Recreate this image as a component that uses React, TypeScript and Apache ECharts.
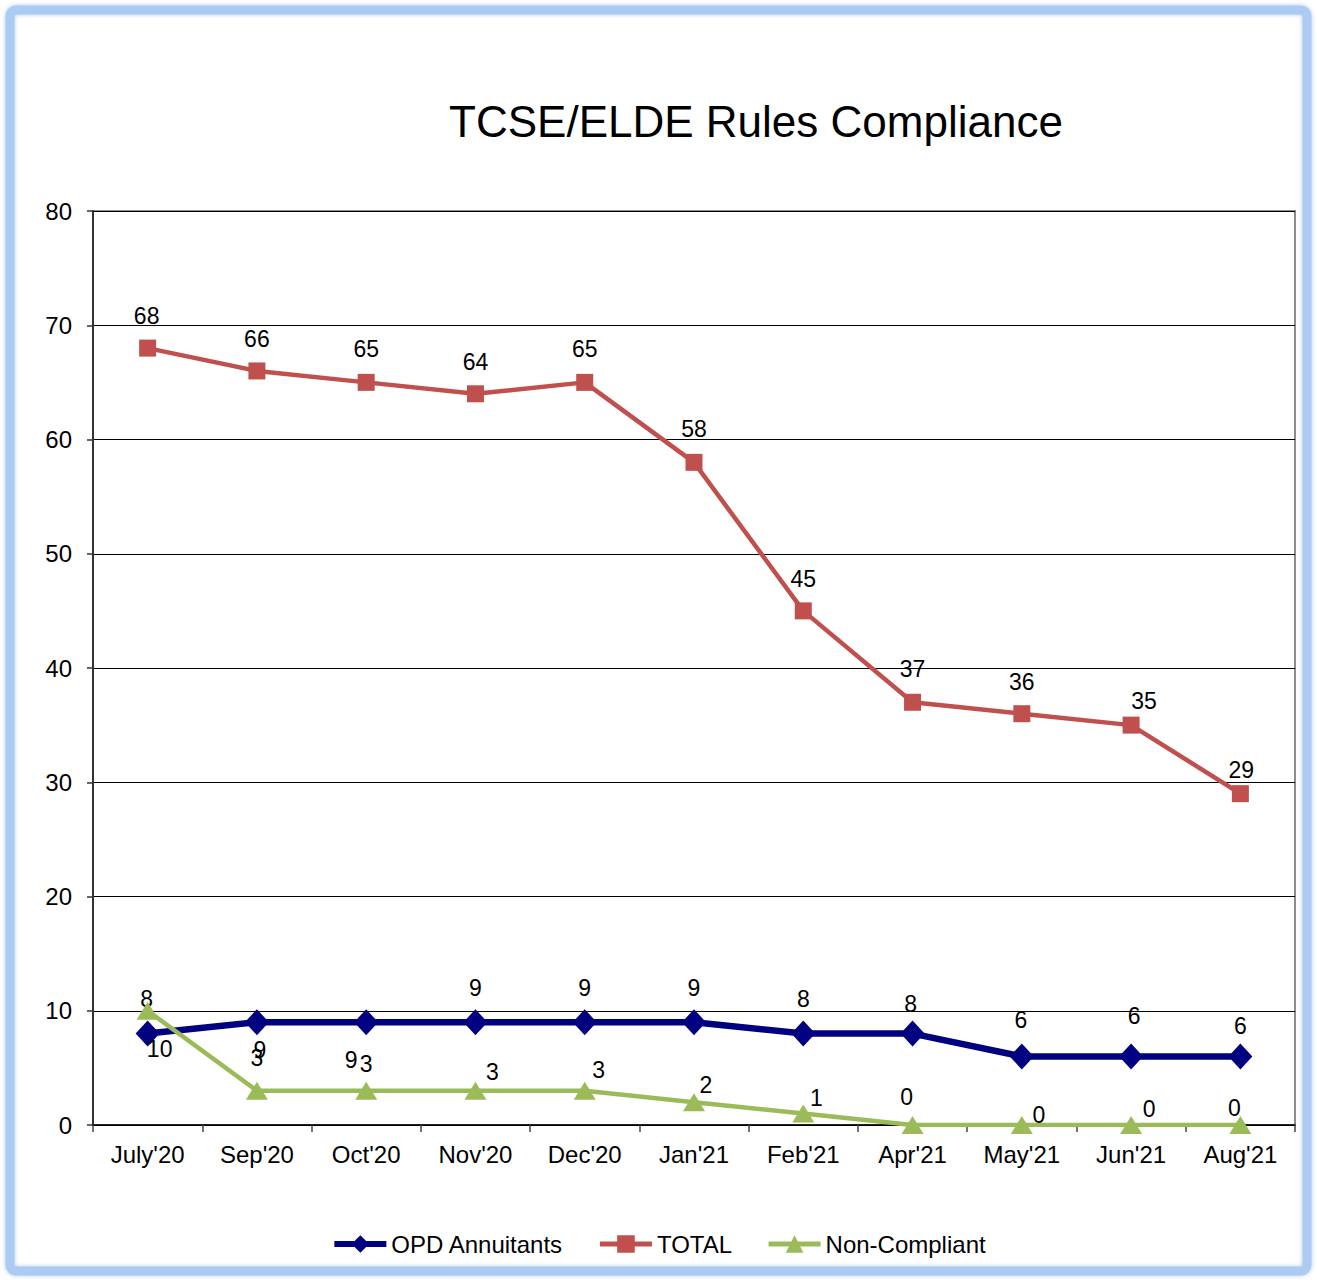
import React, { useEffect, useRef } from "react";
import * as echarts from "echarts";

const categories = ["July'20", "Sep'20", "Oct'20", "Nov'20", "Dec'20", "Jan'21", "Feb'21", "Apr'21", "May'21", "Jun'21", "Aug'21"];
const opdAnnuitants = [8, 9, 9, 9, 9, 9, 8, 8, 6, 6, 6];
const total = [68, 66, 65, 64, 65, 58, 45, 37, 36, 35, 29];
const nonCompliant = [10, 3, 3, 3, 3, 2, 1, 0, 0, 0, 0];
const yTicks = [0, 10, 20, 30, 40, 50, 60, 70, 80];

// label placement offsets (dx, dy) relative to each point, as laid out in the reference
const opdLabelOffsets = [[-1, -35], [3, 28], [-15, 38], [0, -34], [0, -34], [0, -34], [0, -35], [-2, -30], [-1, -36], [3, -40], [0, -30]];
const totalLabelOffsets = [[-1, -32], [0, -32], [0, -33], [0, -32], [0, -33], [0, -33], [0, -32], [0, -33], [0, -32], [13, -24], [1, -24]];
const nonCompliantLabelOffsets = [[12, 38], [0, -33], [0, -27], [17, -19], [14, -21], [12, -17], [13, -16], [-6, -28], [17, -10], [18, -16], [-6, -17]];

const FONT = "'Liberation Sans', Arial, sans-serif";

function withOffsets(values: number[], offsets: number[][]) {
  return values.map((v, i) => ({ value: v, label: { offset: offsets[i] } }));
}

export default function App() {
  const ref = useRef<HTMLDivElement>(null);
  useEffect(() => {
    document.body.style.margin = "0";
    if (!ref.current) return;
    const chart = echarts.init(ref.current, undefined, { renderer: "svg" });
    const labelStyle = {
      show: true,
      position: "inside" as const,
      color: "#000",
      fontSize: 23,
      fontFamily: FONT,
    };
    chart.setOption({
      animation: false,
      backgroundColor: "#fff",
      textStyle: { fontFamily: FONT },
      title: {
        text: "TCSE/ELDE Rules Compliance",
        left: 751,
        textAlign: "center",
        top: 94,
        textStyle: { fontSize: 44, fontWeight: "normal", color: "#000", fontFamily: FONT },
      },
      graphic: [
        {
          type: "rect",
          shape: { x: 10, y: 10, width: 1297, height: 1261, r: 6 },
          style: { fill: "none", stroke: "#abcbf2", lineWidth: 9, shadowBlur: 4, shadowColor: "rgba(120,160,230,0.6)" },
          silent: true,
          z: 100,
        },
      ],
      grid: {
        left: 93,
        right: 22,
        top: 211,
        bottom: 155,
        show: true,
        borderColor: "#8c8c8c",
        borderWidth: 2,
        backgroundColor: "transparent",
      },
      legend: {
        bottom: 19,
        left: "center",
        itemWidth: 52,
        itemHeight: 22,
        itemGap: 34,
        textStyle: { fontSize: 24, color: "#000", fontFamily: FONT },
        data: [
          { name: "OPD Annuitants", lineStyle: { width: 6 } },
          { name: "TOTAL", lineStyle: { width: 5 } },
          { name: "Non-Compliant", lineStyle: { width: 5 } },
        ],
      },
      xAxis: {
        type: "category",
        data: categories,
        boundaryGap: true,
        axisLine: { show: true, lineStyle: { color: "#000", width: 1.5 } },
        axisTick: { show: true, length: 7, lineStyle: { color: "#444", width: 1.5 } },
        axisLabel: { fontSize: 24, color: "#000", margin: 17, fontFamily: FONT },
        splitLine: { show: false },
      },
      yAxis: {
        type: "value",
        min: yTicks[0],
        max: yTicks[yTicks.length - 1],
        interval: 10,
        axisLine: { show: true, lineStyle: { color: "#333", width: 2 } },
        axisTick: { show: true, length: 6, lineStyle: { color: "#333", width: 1.5 } },
        axisLabel: { fontSize: 24, color: "#000", margin: 21, fontFamily: FONT },
        splitLine: { show: true, lineStyle: { color: "#000", width: 1 } },
      },
      series: [
        {
          name: "OPD Annuitants",
          type: "line",
          data: withOffsets(opdAnnuitants, opdLabelOffsets),
          color: "#000080",
          lineStyle: { width: 6.5, color: "#000080" },
          symbol: "diamond",
          symbolSize: [24, 26],
          itemStyle: { color: "#000080" },
          label: labelStyle,
          z: 3,
        },
        {
          name: "TOTAL",
          type: "line",
          data: withOffsets(total, totalLabelOffsets),
          color: "#c0504d",
          lineStyle: { width: 4.5, color: "#c0504d" },
          symbol: "rect",
          symbolSize: 17,
          itemStyle: { color: "#c0504d" },
          label: labelStyle,
          z: 3,
        },
        {
          name: "Non-Compliant",
          type: "line",
          data: withOffsets(nonCompliant, nonCompliantLabelOffsets),
          color: "#9bbb59",
          lineStyle: { width: 4.5, color: "#9bbb59" },
          symbol: "triangle",
          symbolSize: [22, 18],
          itemStyle: { color: "#9bbb59" },
          label: labelStyle,
          z: 4,
        },
      ],
    });
    return () => chart.dispose();
  }, []);
  return <div ref={ref} style={{ width: 1317, height: 1280 }} />;
}
